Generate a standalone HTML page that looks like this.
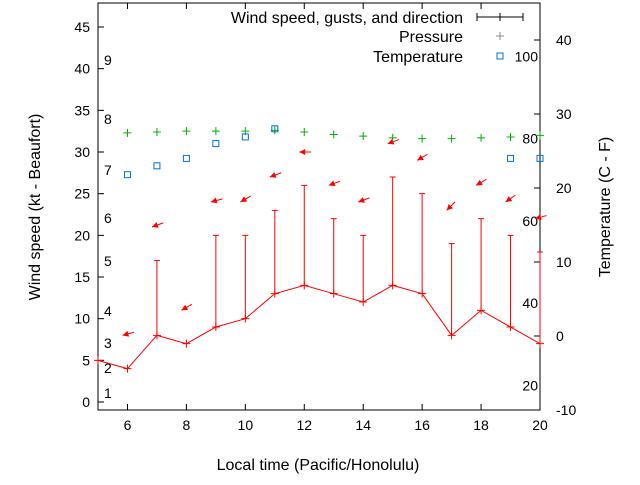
<!DOCTYPE html>
<html><head><meta charset="utf-8"><style>body{margin:0;background:#fff}svg{font-family:"Liberation Sans",sans-serif}</style></head>
<body>
<svg id="c" width="640" height="480" xmlns="http://www.w3.org/2000/svg"></svg>
<script>
const hours=[5,6,7,8,9,10,11,12,13,14,15,16,17,18,19,20];
const windSpeed=[5,4,8,7,9,10,13,14,13,12,14,13,8,11,9,7];
const gusts=[null,null,17,null,20,20,23,26,22,20,27,25,19,22,20,18];
const arrowHours=[6,7,8,9,10,11,12,13,14,15,16,17,18,19,20];
const arrowLevel=[8,21,11,24,24,27,30,26,24,31,29,23,26,24,22];
const arrowAngle=[15,20,30,15,30,20,0,20,20,20,30,45,30,35,15];
const pressureHours=[6,7,8,9,10,11,12,13,14,15,16,17,18,19,20];
const pressure=[32.3,32.4,32.5,32.5,32.5,32.6,32.4,32.1,31.9,31.7,31.6,31.6,31.7,31.8,32.0];
const tempHours=[6,7,8,9,10,11,19,20];
const temperature=[21.8,23,24,26,26.9,28,24,24];
const xTicks=[6,8,10,12,14,16,18,20];
const yTicks=[0,5,10,15,20,25,30,35,40,45];
const y2Ticks=[-10,0,10,20,30,40];
const beaufort=[[1,393],[2,368],[3,343],[4,311],[5,261],[6,218],[7,170],[8,119],[9,60]];
const fahr=[20,40,60,80,100];
const L=98,R=540,T=3,B=410;
const X=h=>L+(h-5)*(R-L)/15;
const Y=v=>402-v*8.333;
const Y2=t=>336-t*7.4;
const s=document.getElementById('c');
function el(tag,a,txt){const e=document.createElementNS('http://www.w3.org/2000/svg',tag);for(const k in a)e.setAttribute(k,a[k]);if(txt!==undefined)e.textContent=txt;s.appendChild(e);return e;}
let e;
e=el('rect',{x:L,y:T,width:R-L,height:B-T,fill:'none',stroke:'#000'});


xTicks.forEach(t=>{el('line',{x1:X(t),x2:X(t),y1:B,y2:B-6,stroke:'#000'});el('line',{x1:X(t),x2:X(t),y1:T,y2:T+6,stroke:'#000'});
e=el('text',{x:X(t),y:B+20,'text-anchor':'middle','font-size':14},t);

});
yTicks.forEach(t=>{el('line',{x1:L,x2:L+6,y1:Y(t),y2:Y(t),stroke:'#000'});
e=el('text',{x:L-8,y:Y(t)+5,'text-anchor':'end','font-size':14},t);

});
y2Ticks.forEach(t=>{el('line',{x1:R,x2:R-6,y1:Y2(t),y2:Y2(t),stroke:'#000'});
e=el('text',{x:R+16,y:Y2(t)+5,'font-size':14},t);

});
beaufort.forEach(b=>{e=el('text',{x:104,y:b[1]+5,'font-size':14},b[0]);

});
fahr.forEach(f=>{e=el('text',{x:538,y:Y2((f-32)*5/9)+5,'text-anchor':'end','font-size':14},f);

});
e=el('text',{x:318,y:470,'text-anchor':'middle','font-size':16},'Local time (Pacific/Honolulu)');


e=el('text',{x:0,y:0,'text-anchor':'middle','font-size':16,transform:'translate(40,207) rotate(-90)'},'Wind speed (kt - Beaufort)');


e=el('text',{x:0,y:0,'text-anchor':'middle','font-size':16,transform:'translate(610,207) rotate(-90)'},'Temperature (C - F)');


const pts=hours.map((h,i)=>X(h)+','+Y(windSpeed[i])).join(' ');
e=el('polyline',{points:pts,fill:'none',stroke:'#f00','stroke-width':1});


hours.forEach((h,i)=>{const x=X(h),y=Y(windSpeed[i]);
el('path',{d:`M${x-4},${y}H${x+4}M${x},${y-4}V${y+4}`,stroke:'#f00'});
if(gusts[i]!==null){const g=Y(gusts[i]);
e=el('path',{d:`M${x},${y}V${g}M${x-3},${g}H${x+3}`,stroke:'#f00'});

}});
arrowHours.forEach((h,i)=>{const a=arrowAngle[i]*Math.PI/180;const tx=X(h)-5,ty=Y(arrowLevel[i]);
const ux=Math.cos(a),uy=-Math.sin(a);const hx=tx+ux*12,hy=ty+uy*12;
const px=-uy,py=ux;
e=el('g',{});


const l=document.createElementNS('http://www.w3.org/2000/svg','line');l.setAttribute('x1',tx);l.setAttribute('y1',ty);l.setAttribute('x2',hx);l.setAttribute('y2',hy);l.setAttribute('stroke','#f00');e.appendChild(l);
const p=document.createElementNS('http://www.w3.org/2000/svg','polygon');
p.setAttribute('points',`${tx},${ty} ${tx+ux*6+px*3},${ty+uy*6+py*3} ${tx+ux*6-px*3},${ty+uy*6-py*3}`);p.setAttribute('fill','#f00');e.appendChild(p);});
pressureHours.forEach((h,i)=>{const x=X(h),y=Y(pressure[i]);
e=el('path',{d:`M${x-4},${y}H${x+4}M${x},${y-4}V${y+4}`,stroke:'#00b000'});

});
tempHours.forEach((h,i)=>{const x=X(h),y=Y2(temperature[i]);
e=el('rect',{x:x-3,y:y-3,width:6,height:6,fill:'none',stroke:'#0070e0'});

});
e=el('text',{x:463,y:23,'text-anchor':'end','font-size':16},'Wind speed, gusts, and direction');


el('path',{d:'M477,17H523M477,13V21M523,13V21M500,13V21',stroke:'#000'});
e=el('text',{x:463,y:42,'text-anchor':'end','font-size':16},'Pressure');


el('path',{d:'M496,36H504M500,32V40',stroke:'#888'});
e=el('text',{x:463,y:62,'text-anchor':'end','font-size':16},'Temperature');


el('rect',{x:497,y:53,width:6,height:6,fill:'none',stroke:'#0070e0'});
</script>
</body></html>
